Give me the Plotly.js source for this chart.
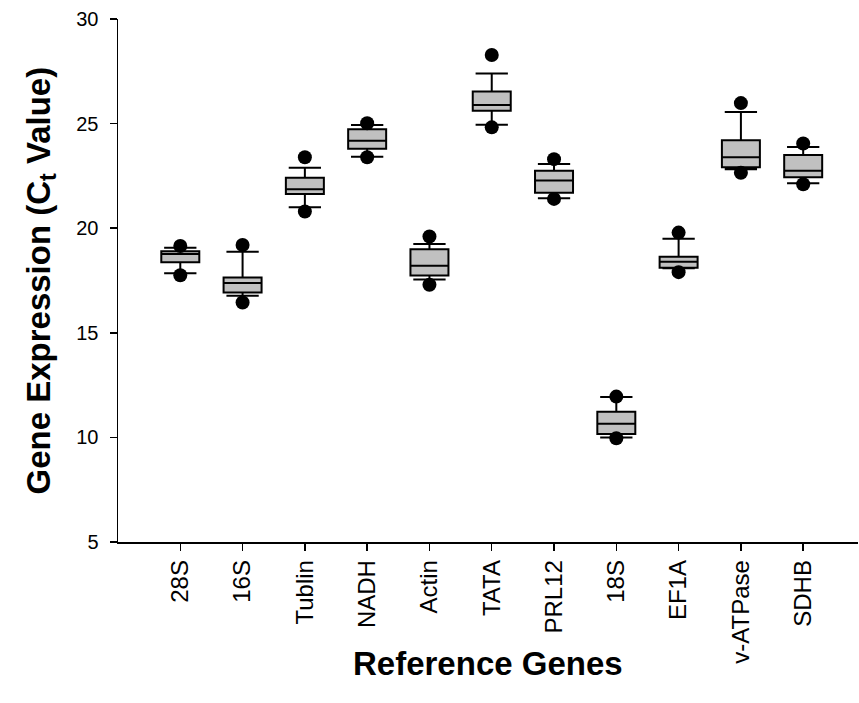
<!DOCTYPE html>
<html>
<head>
<meta charset="utf-8">
<script src="https://cdn.plot.ly/plotly-3.0.1.min.js"></script>
<style>
  html, body { margin: 0; padding: 0; background: #fff; }
  #chart { width: 859px; height: 703px; }
</style>
</head>
<body>
<div id="chart"></div>
<script>
var genes = ['28S', '16S', 'Tublin', 'NADH', 'Actin', 'TATA', 'PRL12', '18S', 'EF1A', 'v-ATPase', 'SDHB'];
var lowerWhisker = [17.85, 16.77, 21.0, 23.42, 17.55, 24.95, 21.43, 9.99, 18.08, 22.82, 22.15];
var q1Values = [18.37, 16.93, 21.63, 23.80, 17.74, 25.62, 21.70, 10.16, 18.11, 22.91, 22.43];
var medianValues = [18.77, 17.38, 21.86, 24.18, 18.20, 25.89, 22.28, 10.65, 18.40, 23.39, 22.75];
var q3Values = [18.90, 17.64, 22.41, 24.73, 18.99, 26.53, 22.75, 11.23, 18.64, 24.20, 23.50];
var upperWhisker = [19.07, 18.88, 22.89, 24.93, 19.25, 27.39, 23.07, 11.93, 19.49, 25.55, 23.88];
var lowOutliers = [17.75, 16.45, 20.80, 23.39, 17.30, 24.82, 21.40, 9.96, 17.90, 22.65, 22.10];
var highOutliers = [19.15, 19.20, 23.39, 25.02, 19.60, 28.28, 23.30, 11.95, 19.79, 25.98, 24.05];
var yTicks = [5, 10, 15, 20, 25, 30];

var font = 'Liberation Sans, Arial, Helvetica, sans-serif';

var boxTrace = {
  type: 'box',
  x: genes,
  q1: q1Values,
  median: medianValues,
  q3: q3Values,
  lowerfence: lowerWhisker,
  upperfence: upperWhisker,
  boxpoints: false,
  width: 0.61,
  whiskerwidth: 0.85,
  fillcolor: '#c0c0c0',
  line: { color: '#000000', width: 2 },
  hoverinfo: 'skip',
  showlegend: false
};

var dotX = genes.concat(genes);
var dotY = lowOutliers.concat(highOutliers);
var dots = {
  type: 'scatter',
  mode: 'markers',
  x: dotX,
  y: dotY,
  marker: { color: '#000000', size: 14, line: { width: 0 } },
  hoverinfo: 'skip',
  showlegend: false
};

var layout = {
  width: 859,
  height: 703,
  margin: { l: 118, r: 1, t: 19, b: 161 },
  paper_bgcolor: '#ffffff',
  plot_bgcolor: '#ffffff',
  font: { family: font, color: '#000000', size: 20 },
  showlegend: false,
  hovermode: false,
  xaxis: {
    type: 'category',
    categoryorder: 'array',
    categoryarray: genes,
    range: [-1, 10.88],
    showgrid: false,
    zeroline: false,
    showline: true,
    linecolor: '#000000',
    linewidth: 1.5,
    ticks: 'outside',
    ticklen: 7,
    tickwidth: 1.5,
    tickcolor: '#000000',
    tickangle: -90,
    ticklabelstandoff: 0,
    tickfont: { family: font, size: 24, color: '#000000' },
    automargin: false,
    fixedrange: true
  },
  yaxis: {
    range: [5, 30],
    tickvals: yTicks,
    ticktext: yTicks.map(String),
    showgrid: false,
    zeroline: false,
    showline: true,
    linecolor: '#000000',
    linewidth: 1.5,
    ticks: 'outside',
    ticklen: 7,
    tickwidth: 1.5,
    tickcolor: '#000000',
    ticklabelstandoff: 7,
    tickfont: { family: font, size: 20, color: '#000000' },
    automargin: false,
    fixedrange: true
  },
  annotations: [
    {
      text: '<b>Gene Expression (C<sub>t</sub> Value)</b>',
      xref: 'paper', yref: 'paper',
      x: 0, y: 0.5,
      xanchor: 'center', yanchor: 'middle',
      xshift: -78,
      textangle: -90,
      showarrow: false,
      font: { family: font, size: 33, color: '#000000' }
    },
    {
      text: '<b>Reference Genes</b>',
      xref: 'paper', yref: 'paper',
      x: 0.5, y: 0,
      xanchor: 'center', yanchor: 'middle',
      yshift: -121,
      showarrow: false,
      font: { family: font, size: 33, color: '#000000' }
    }
  ]
};

Plotly.newPlot('chart', [boxTrace, dots], layout, { displayModeBar: false, staticPlot: true });
</script>
</body>
</html>
